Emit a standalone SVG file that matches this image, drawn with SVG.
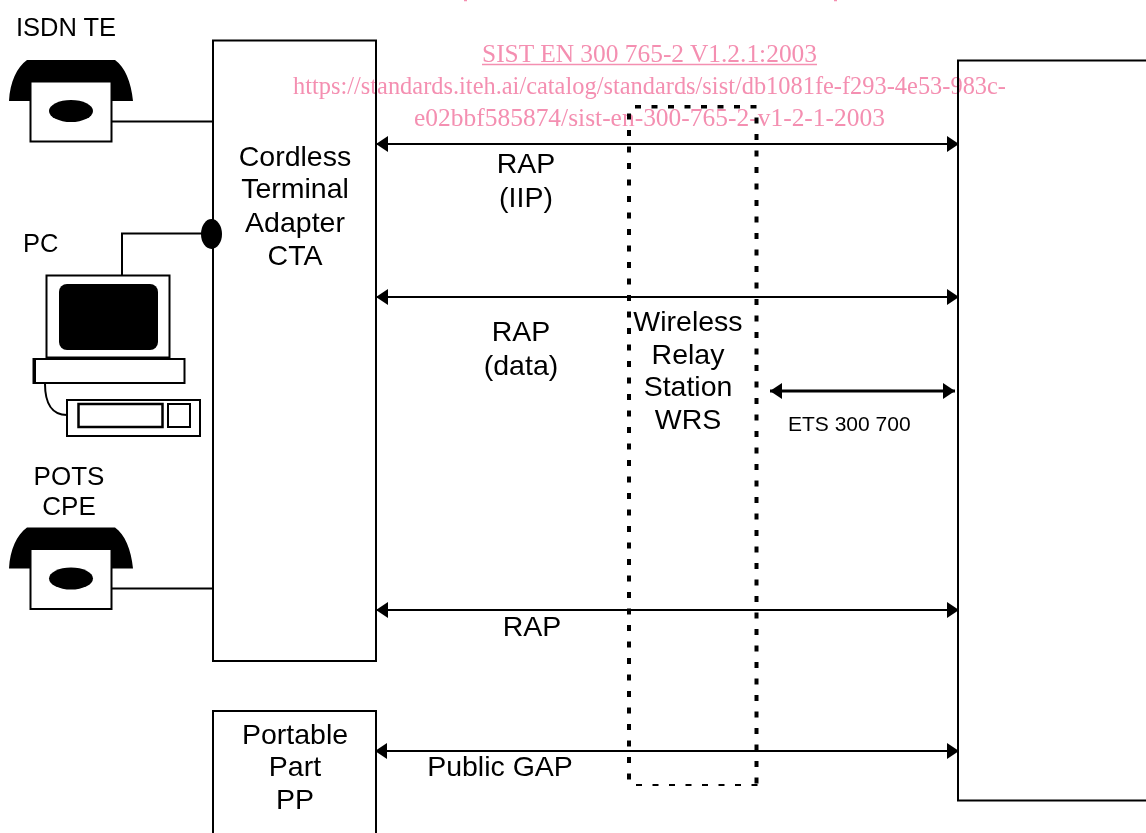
<svg xmlns="http://www.w3.org/2000/svg" width="1146" height="833" viewBox="0 0 1146 833">
<style>
.t{font-family:"Liberation Sans",Arial,sans-serif;font-size:28.500px;fill:#000;text-anchor:middle}
.u{font-family:"Liberation Sans",Arial,sans-serif;font-size:26px;fill:#000;text-anchor:middle}
.l{font-family:"Liberation Sans",Arial,sans-serif;font-size:25.500px;fill:#000}
.s{font-family:"Liberation Sans",Arial,sans-serif;font-size:21px;fill:#000}
.w{font-family:"Liberation Serif","Times New Roman",serif;font-size:26px;fill:#f48fb1}
.b{fill:#fff;stroke:#000;stroke-width:2}
.c{fill:none;stroke:#000;stroke-width:2}
.k{fill:#000;stroke:none}
.dv{fill:none;stroke:#000;stroke-width:4;stroke-dasharray:6 10.500}
.dh{fill:none;stroke:#000;stroke-dasharray:6 10.500}
</style>
<defs>
<marker id="a" viewBox="0 0 12 16" refX="12" refY="8" markerWidth="12" markerHeight="16" markerUnits="userSpaceOnUse" orient="auto-start-reverse"><path d="M0 0L12 8L0 16z" fill="#000"/></marker>
<g id="phone">
<path class="k" d="M9 41C10 22 17 7 27 0H115C125 7 131 22 133 41H111V21H31V41z"/>
<rect class="b" x="30.500" y="21.500" width="81" height="60"/>
<ellipse class="k" cx="71" cy="51" rx="22" ry="11"/>
</g>
</defs>
<g id="connectors">
<path class="c" d="M111 121.500H213"/>
<path class="c" d="M111 588.500H213"/>
<path class="c" d="M122 276V233.500H205"/>
<path class="c" d="M45 384C45 403 52 415 67 415"/>
<path class="c" marker-start="url(#a)" marker-end="url(#a)" d="M376 144H959"/>
<path class="c" marker-start="url(#a)" marker-end="url(#a)" d="M376 297H959"/>
<path class="c" marker-start="url(#a)" marker-end="url(#a)" d="M376 610H959"/>
<path class="c" marker-start="url(#a)" marker-end="url(#a)" d="M375 751H959"/>
<path class="c" style="stroke-width:3" marker-start="url(#a)" marker-end="url(#a)" d="M770 391H955"/>
</g>
<g id="isdn-te">
<text class="l" x="16" y="35.500">ISDN TE</text>
<use href="#phone" x="0" y="60"/>
</g>
<g id="pots-cpe">
<text class="u" x="69" y="484.500">POTS</text>
<text class="u" x="69" y="514.500">CPE</text>
<use href="#phone" x="0" y="527.500"/>
</g>
<g id="pc">
<text class="l" x="23" y="252">PC</text>
<rect class="b" x="46.500" y="275.500" width="123" height="82"/>
<rect class="k" x="59" y="284" width="99" height="66" rx="8"/>
<rect class="b" x="33.500" y="359" width="151" height="24"/>
<path class="k" d="M33 359h3v24h-3z"/>
<rect class="b" x="67" y="400" width="133" height="36"/>
<rect class="b" x="78.500" y="404" width="84" height="23" style="stroke-width:2.500"/>
<rect class="b" x="168" y="404" width="22" height="23"/>
</g>
<g id="cta">
<rect class="b" x="213" y="40.500" width="163" height="620.500"/>
<ellipse class="k" cx="211.500" cy="234" rx="10.500" ry="15"/>
<text class="t" x="295" y="166">Cordless</text>
<text class="t" x="295" y="198">Terminal</text>
<text class="t" x="295" y="232">Adapter</text>
<text class="t" x="295" y="265">CTA</text>
</g>
<g id="pp">
<rect class="b" x="213" y="711" width="163" height="140"/>
<text class="t" x="295" y="744">Portable</text>
<text class="t" x="295" y="776">Part</text>
<text class="t" x="295" y="809">PP</text>
</g>
<g id="base">
<rect class="b" x="958" y="60.500" width="220" height="740"/>
</g>
<g id="wrs">
<path class="dv" d="M629 113.500V785"/>
<path class="dv" d="M756.500 117.500V789"/>
<path class="dh" style="stroke-width:3.500" d="M635 106.700H758"/>
<path class="dh" style="stroke-width:2" d="M636 785H758"/>
<text class="t" x="688" y="331">Wireless</text>
<text class="t" x="688" y="364">Relay</text>
<text class="t" x="688" y="396">Station</text>
<text class="t" x="688" y="429">WRS</text>
</g>
<g id="labels">
<text class="t" x="526" y="173">RAP</text>
<text class="t" x="526" y="207">(IIP)</text>
<text class="t" x="521" y="341">RAP</text>
<text class="t" x="521" y="375">(data)</text>
<text class="t" x="532" y="636">RAP</text>
<text class="t" x="500" y="776">Public GAP</text>
<text class="s" x="788" y="431">ETS 300 700</text>
</g>
<g id="watermark" style="mix-blend-mode:multiply">
<text class="w" x="482" y="62" textLength="335" lengthAdjust="spacingAndGlyphs">SIST EN 300 765-2 V1.2.1:2003</text>
<path d="M482 64.500H817" stroke="#f48fb1" stroke-width="1.500"/>
<text class="w" x="293" y="94" textLength="713" lengthAdjust="spacingAndGlyphs">https://standards.iteh.ai/catalog/standards/sist/db1081fe-f293-4e53-983c-</text>
<text class="w" x="414" y="125.500" textLength="471" lengthAdjust="spacingAndGlyphs">e02bbf585874/sist-en-300-765-2-v1-2-1-2003</text>
<path d="M464 .5H467M834 .5H837" fill="none" stroke="#f48fb1" stroke-width="1.500"/>
</g>
</svg>
